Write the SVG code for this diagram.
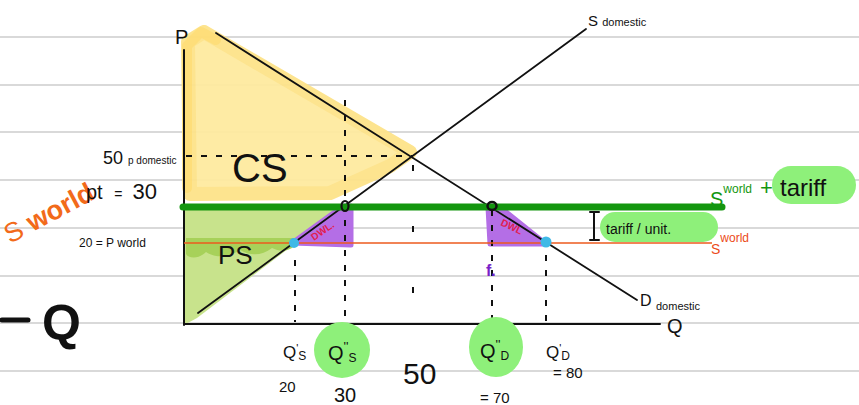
<svg xmlns="http://www.w3.org/2000/svg" width="859" height="405" viewBox="0 0 859 405">
<style>
.rule{stroke:#d9d9d9;stroke-width:2}
.ink{stroke:#111;fill:none;stroke-linecap:round}
.dash{stroke:#111;stroke-width:2;fill:none;stroke-dasharray:6 9}
.t{font-family:"Liberation Sans",Arial,sans-serif;fill:#111}
.hl{fill:#8ef07a}
.dwl{fill:#b46ee6}
.dwlt{font-family:"Liberation Sans",Arial,sans-serif;font-weight:bold;fill:#e02050;font-size:10px}
.dot{fill:#3fb9e6}
</style>
<rect width="859" height="405" fill="#fff"/>
<g id="rules">
<line class="rule" x1="0" y1="37" x2="859" y2="37"/>
<line class="rule" x1="0" y1="85" x2="859" y2="85"/>
<line class="rule" x1="0" y1="132" x2="859" y2="132"/>
<line class="rule" x1="0" y1="180" x2="859" y2="180"/>
<line class="rule" x1="0" y1="228" x2="859" y2="228"/>
<line class="rule" x1="0" y1="276" x2="859" y2="276"/>
<line class="rule" x1="0" y1="323" x2="859" y2="323"/>
<line class="rule" x1="0" y1="371" x2="859" y2="371"/>
</g>
<g id="cs-area">
<polygon points="188,42 204,32 410,152 390,166 330,193 190,194" fill="#feeaa0" stroke="#fde38a" stroke-width="14" stroke-linejoin="round" opacity="0.95"/>
<polyline points="187,188 187,46 201,32 216,40" fill="none" stroke="#fddc70" stroke-width="10" stroke-linecap="round" stroke-linejoin="round" opacity="0.7"/>
</g>
<g id="ps-area">
<polygon points="184,208 342,208 197,318 184,325" fill="#c8e38c"/>
<path d="M186,238 L300,238 L296,244 C290,252 280,252 272,248 C262,256 250,256 240,250 C228,258 215,258 206,252 C198,260 188,258 186,254 Z" fill="#a7d15a"/>
</g>
<g id="dwl-left">
<polygon class="dwl" points="292,243 343,206 351,206 351,245" stroke="#b46ee6" stroke-width="5" stroke-linejoin="round"/>
<text class="dwlt" transform="translate(314,241) rotate(-35)">DWL.</text>
</g>
<g id="dwl-right">
<polygon class="dwl" points="488,207 500,207 546,244 490,244" stroke="#b46ee6" stroke-width="5" stroke-linejoin="round"/>
<text class="dwlt" transform="translate(500,225) rotate(25)">DWL</text>
</g>
<g id="connectors">
<line x1="184" y1="50" x2="184" y2="325" class="ink" stroke-width="2"/>
<line x1="184" y1="324" x2="660" y2="324" class="ink" stroke-width="2"/>
<line x1="216" y1="33" x2="637" y2="300" class="ink" stroke-width="1.8"/>
<line x1="198" y1="313" x2="586" y2="29" class="ink" stroke-width="1.8"/>
<line x1="186" y1="156" x2="413" y2="156" class="dash"/>
<line x1="345" y1="100" x2="345" y2="322" class="dash"/>
<line x1="413" y1="165" x2="413" y2="330" stroke="#111" stroke-width="2" stroke-dasharray="6 55"/>
<line x1="492" y1="210" x2="492" y2="322" class="dash"/>
<line x1="295" y1="260" x2="295" y2="322" class="dash"/>
<line x1="546" y1="255" x2="546" y2="322" class="dash"/>
<line x1="183" y1="207" x2="722" y2="207" stroke="#14960f" stroke-width="7" stroke-linecap="round"/>
<line x1="184" y1="243" x2="712" y2="243" stroke="#ec5a1e" stroke-width="1.6"/>
<ellipse cx="345" cy="206" rx="3.5" ry="5" class="ink" stroke-width="2.2"/>
<ellipse cx="492" cy="206" rx="4.5" ry="4" class="ink" stroke-width="2.5"/>
<circle class="dot" cx="294" cy="243" r="5"/>
<circle class="dot" cx="546" cy="242" r="5.5"/>
<line x1="594" y1="212" x2="594" y2="240" class="ink" stroke-width="2"/>
<line x1="590" y1="212" x2="599" y2="212" class="ink" stroke-width="2"/>
<line x1="590" y1="240" x2="599" y2="240" class="ink" stroke-width="2"/>
<line x1="2" y1="320" x2="28" y2="320" class="ink" stroke-width="5"/>
</g>
<g id="labels">
<text class="t" x="175" y="44" font-size="20">P</text>
<text class="t" x="588" y="26" font-size="15">S <tspan font-size="11">domestic</tspan></text>
<text class="t" x="103" y="164" font-size="18">50 <tspan font-size="10">p domestic</tspan></text>
<text transform="translate(10,244) rotate(-28)" font-family="Liberation Sans,Arial,sans-serif" font-size="27" fill="#f26a1a">S <tspan font-weight="bold">world</tspan></text>
<text class="t" x="86" y="199" font-size="20">pt <tspan font-size="14" dx="6">=</tspan><tspan dx="10" font-size="22">30</tspan></text>
<text class="t" x="79" y="247" font-size="12">20 = P world</text>
<text class="t" x="232" y="182" font-size="40">CS</text>
<text class="t" x="218" y="264" font-size="26">PS</text>
<text x="486" y="276" font-family="Liberation Sans,Arial,sans-serif" font-size="16" fill="#7a1fc8" font-weight="bold">f.</text>
</g>
<g id="tariff-unit">
<rect class="hl" x="600" y="212" width="118" height="30" rx="15"/>
<text class="t" x="606" y="234" font-size="14">tariff / unit.</text>
</g>
<g id="s-world-tariff">
<text x="710" y="206" font-family="Liberation Sans,Arial,sans-serif" font-size="20" fill="#14960f">S<tspan font-size="12" dy="-13">world</tspan></text>
<rect class="hl" x="772" y="166" width="84" height="38" rx="19"/>
<text x="760" y="195" font-family="Liberation Sans,Arial,sans-serif" font-size="22" fill="#14960f">+</text>
<text class="t" x="780" y="196" font-size="24">tariff</text>
</g>
<g id="s-world-small">
<text x="711" y="254" font-family="Liberation Sans,Arial,sans-serif" font-size="14" fill="#ec4a1a">S<tspan font-size="12" dy="-12">world</tspan></text>
</g>
<g id="d-domestic">
<text class="t" x="640" y="306" font-size="16">D <tspan font-size="11" dy="4">domestic</tspan></text>
<text class="t" x="667" y="333" font-size="20">Q</text>
</g>
<g id="q-big">
<text class="t" x="42" y="340" font-size="50" font-weight="bold">Q</text>
</g>
<g id="qs1">
<text class="t" x="283" y="358" font-size="17">Q<tspan font-size="11" dy="-6">'</tspan><tspan font-size="12" dy="8">S</tspan></text>
<text class="t" x="279" y="392" font-size="15">20</text>
</g>
<g id="qs2">
<circle class="hl" cx="342" cy="350" r="28"/>
<text class="t" x="328" y="360" font-size="20">Q<tspan font-size="13" dy="-9">''</tspan><tspan font-size="12" dy="11">S</tspan></text>
<text class="t" x="334" y="402" font-size="20">30</text>
</g>
<g id="q50">
<text class="t" x="403" y="384" font-size="30">50</text>
</g>
<g id="qd2">
<ellipse class="hl" cx="496" cy="347" rx="27" ry="30"/>
<text class="t" x="480" y="358" font-size="20">Q<tspan font-size="13" dy="-9">''</tspan><tspan font-size="12" dy="11">D</tspan></text>
<text class="t" x="480" y="403" font-size="15">= 70</text>
</g>
<g id="qd1">
<text class="t" x="546" y="358" font-size="17">Q<tspan font-size="11" dy="-6">'</tspan><tspan font-size="12" dy="8">D</tspan></text>
<text class="t" x="553" y="378" font-size="15">= 80</text>
</g>
</svg>
